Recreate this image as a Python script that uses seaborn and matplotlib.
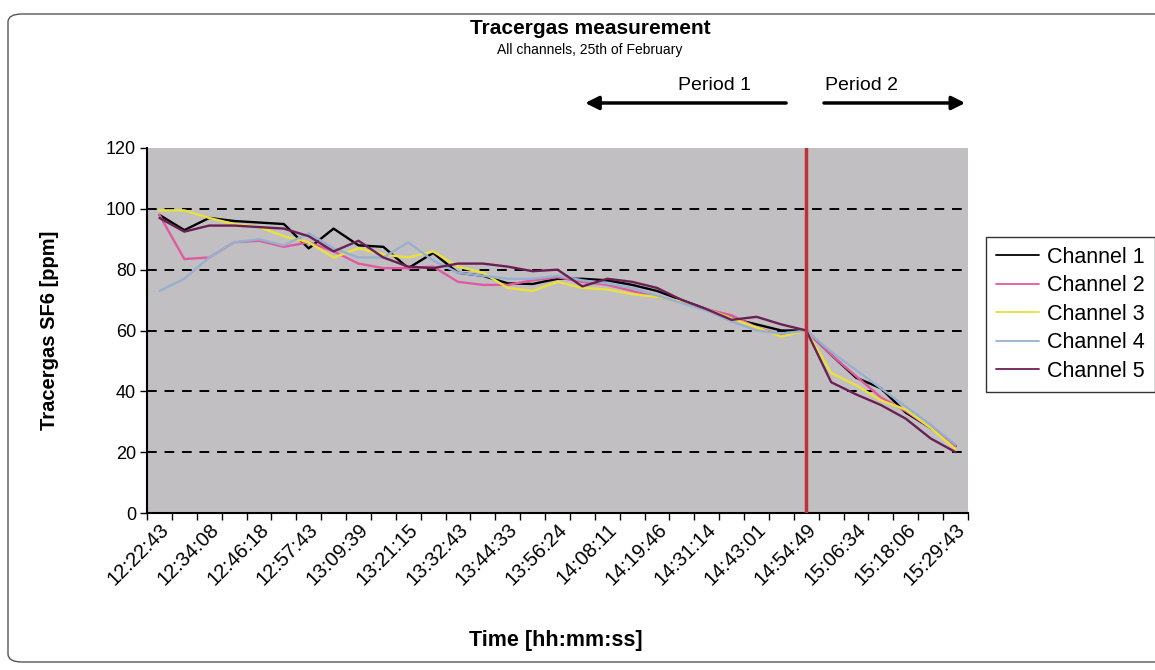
import numpy as np
import pandas as pd
import matplotlib
matplotlib.use("Agg")
import matplotlib.pyplot as plt
from matplotlib.patches import FancyBboxPatch
import seaborn as sns

# ---------------- data ----------------
tick_labels = ["12:22:43", "12:34:08", "12:46:18", "12:57:43", "13:09:39", "13:21:15",
               "13:32:43", "13:44:33", "13:56:24", "14:08:11", "14:19:46", "14:31:14",
               "14:43:01", "14:54:49", "15:06:34", "15:18:06", "15:29:43"]

channel_1 = [98, 93, 97, 96, 95.5, 95, 87, 93.5, 88, 87.5, 80.5, 85.5, 79, 78, 75.5, 75.3, 77,
             77, 76.5, 75, 73, 70, 67, 64, 62, 60, 60, 52, 44.5, 41, 33, 28, 22]
channel_2 = [98, 83.5, 84, 89, 89.5, 87.5, 89, 86, 82, 80.5, 80.5, 81, 76, 75, 75, 76.5, 77.5,
             76, 75, 73, 71, 69.5, 67, 65, 61, 58.5, 60, 52, 45, 38, 33.5, 28, 22]
channel_3 = [99.5, 99.5, 97, 95, 94, 91, 89, 84, 87, 85, 84, 86, 81, 79, 74, 73, 76,
             74, 73.5, 72, 71, 69.5, 67, 64, 61, 58, 60, 46, 42, 37, 34, 28, 21]
channel_4 = [73, 77, 84, 89, 90, 88, 92, 87, 84, 84, 89, 83, 79, 78, 77, 77, 78,
             76.5, 75.5, 74, 71.5, 69, 66.5, 63, 60, 59, 60, 53, 47, 41, 35, 29, 22.5]
channel_5 = [97, 92.5, 94.5, 94.5, 94, 93.5, 91, 86, 89.5, 84, 81, 80.5, 82, 82, 81, 79.5, 80,
             74.5, 77, 76, 74, 70, 67, 63.5, 64.5, 62, 60, 43, 39, 35.5, 31, 24.5, 20]

series_names = ["Channel 1", "Channel 2", "Channel 3", "Channel 4", "Channel 5"]
series_values = [channel_1, channel_2, channel_3, channel_4, channel_5]
period_split_index = 26          # measurement where period 1 ends / period 2 begins
period_labels = ["Period 1", "Period 2"]

# ---------------- build long-form table ----------------
n = len(channel_1)
rows = []
for name, vals in zip(series_names, series_values):
    for i, v in enumerate(vals):
        rows.append({"idx": i, "value": v, "channel": name})
df = pd.DataFrame(rows)

palette = {"Channel 1": "#000000", "Channel 2": "#e05aa0", "Channel 3": "#e8e23a",
           "Channel 4": "#98b0d0", "Channel 5": "#6a1f55"}

sns.set_style("white")
plt.rcParams["font.family"] = ["Liberation Sans", "DejaVu Sans"]
plt.rcParams["text.color"] = "black"
plt.rcParams["axes.labelcolor"] = "black"
plt.rcParams["xtick.color"] = "black"
plt.rcParams["ytick.color"] = "black"

fig = plt.figure(figsize=(11.55, 6.7), dpi=100)
ax = fig.add_axes([147 / 1155, 1 - 513 / 670, (968 - 147) / 1155, (513 - 148) / 670])
ax.set_facecolor("#c2bfc3")

sns.lineplot(data=df, x="idx", y="value", hue="channel", palette=palette, ax=ax,
             sort=False, linewidth=1.7, legend=True)

ax.set_xlim(-0.5, n - 0.5)
ax.set_ylim(0, 120)

# y axis
ax.set_yticks(np.arange(0, 121, 20))
ax.tick_params(axis="y", direction="out", length=5, width=1, labelsize=13, colors="black", pad=3, left=True)
ax.yaxis.grid(True, color="black", linestyle=(0, (5, 4)), linewidth=1.4)
gl = ax.yaxis.get_gridlines()
gl[0].set_visible(False)
gl[-1].set_visible(False)

# x axis: labels on every second category, ticks between categories
ax.set_xticks(np.arange(0, n, 2))
ax.set_xticklabels(tick_labels, rotation=45, ha="right", rotation_mode="anchor", fontsize=14.5)
ax.set_xticks(np.arange(-0.5, n, 1), minor=True)
ax.tick_params(axis="x", which="major", length=0, pad=5, colors="black")
ax.tick_params(axis="x", which="minor", direction="out", length=5, width=1, bottom=True, colors="black")

for s in ["top", "right"]:
    ax.spines[s].set_visible(False)
for s in ["left", "bottom"]:
    ax.spines[s].set_color("black")
    ax.spines[s].set_linewidth(1.5)

ax.set_xlabel("Time [hh:mm:ss]", fontsize=15.5, fontweight="bold", color="black")
ax.xaxis.set_label_coords(0.498, -0.32)
ax.set_ylabel("Tracergas SF6 [ppm]", fontsize=14.5, fontweight="bold", color="black")
ax.yaxis.set_label_coords(-0.107, 0.5)

# red separator line
ax.axvline(period_split_index, color="#c0303a", linewidth=2.5, zorder=5)

# period arrows (above the axes)
arrow_y = 134.8
ax.annotate("", xy=(17.0, arrow_y), xytext=(25.3, arrow_y), xycoords="data",
            arrowprops=dict(arrowstyle="-|>,head_length=0.8,head_width=0.4", color="black", lw=2.5),
            annotation_clip=False)
ax.annotate("", xy=(32.5, arrow_y), xytext=(26.6, arrow_y), xycoords="data",
            arrowprops=dict(arrowstyle="-|>,head_length=0.8,head_width=0.4", color="black", lw=2.5),
            annotation_clip=False)
ax.text(22.3, 140.5, period_labels[0], fontsize=14, ha="center", va="center", clip_on=False)
ax.text(28.2, 140.5, period_labels[1], fontsize=14, ha="center", va="center", clip_on=False)

# legend
handles, labels = ax.get_legend_handles_labels()
ax.legend_.remove()
leg = fig.legend(handles, labels, loc="upper left", bbox_to_anchor=(986 / 1155, 1 - 237 / 670),
                 borderaxespad=0, fontsize=15.5, frameon=True, fancybox=False, edgecolor="black",
                 handlelength=2.0, handletextpad=0.4, borderpad=0.45, labelspacing=0.35,
                 labelcolor="black")
leg.get_frame().set_linewidth(1.0)
for h in leg.get_lines():
    h.set_linewidth(1.3)

# titles
fig.text(590 / 1155, 1 - 29 / 670, "Tracergas measurement", fontsize=15, fontweight="bold",
         ha="center", va="center", color="black")
fig.text(590 / 1155, 1 - 50 / 670, "All channels, 25th of February", fontsize=10,
         ha="center", va="center", color="black")

# outer border of the chart
border = FancyBboxPatch((8 / 1155, 8 / 670), 1.2, 1 - 22 / 670, boxstyle="round,pad=0,rounding_size=0.012",
                        transform=fig.transFigure, fill=False, edgecolor="#555555", linewidth=1.0)
fig.patches.append(border)

fig.savefig("out.png", dpi=100, facecolor="white")
